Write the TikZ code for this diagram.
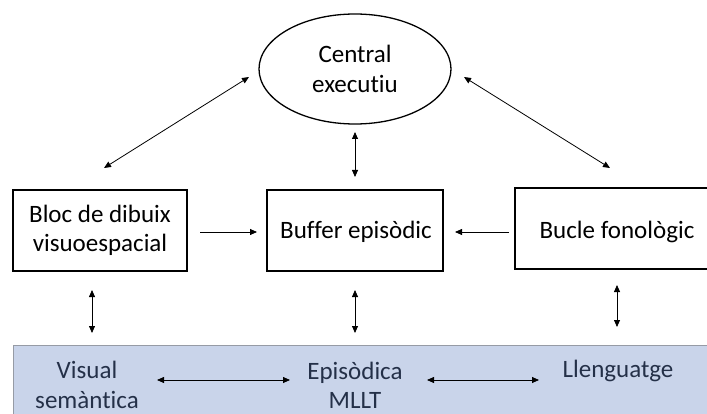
\documentclass[tikz,border=0pt]{standalone}
\usepackage{fontspec}
\setmainfont[Ligatures=NoCommon]{Carlito}
\usetikzlibrary{arrows.meta,shapes.geometric}
\definecolor{bandfill}{RGB}{201,212,234}
\definecolor{bandline}{RGB}{150,155,165}
\definecolor{bandtext}{RGB}{36,48,72}
\begin{document}
\begin{tikzpicture}[x=1pt,y=-1pt,
  every node/.style={font=\fontsize{25}{29.5}\selectfont, align=center, inner sep=0pt},
  arr/.style={-{Triangle[length=7pt,width=6pt]}, line width=0.8pt},
  darr/.style={{Triangle[length=7pt,width=6pt]}-{Triangle[length=7pt,width=6pt]}, line width=0.8pt},
  boxst/.style={draw, line width=1.3pt, inner sep=0pt},
  bandlbl/.style={text=bandtext}]
\useasboundingbox (0,0) rectangle (707,414);
% bottom band
\fill[fill=bandfill, draw=bandline, line width=1pt] (13,345) rectangle (712,420);
% central executive
\node[draw, ellipse, line width=1.3pt, minimum width=192pt, minimum height=110pt] (ce) at (355,69) {Central\\executiu};
% boxes
\node[boxst, minimum width=174pt, minimum height=81pt] (vs) at (100,230.5) {Bloc de dibuix\\visuoespacial};
\node[boxst, minimum width=176pt, minimum height=81pt] (eb) at (355,230.5) {};
\node (ebt) at (356,232) {Buffer episòdic};
\node[boxst, minimum width=205pt, minimum height=81pt] (pl) at (617.5,228.5) {};
\node (plt) at (617,232) {Bucle fonològic};
% bottom labels
\node[bandlbl] (vis) at (87,385) {Visual\\semàntica};
\node[bandlbl] (epi) at (355,385.5) {Episòdica\\MLLT};
\node[bandlbl] (llg) at (618,371) {Llenguatge};
% coordinates
\coordinate (a1) at (104,168); \coordinate (a2) at (249,77);
\coordinate (b1) at (464,77); \coordinate (b2) at (610,168);
\coordinate (c1) at (355,132); \coordinate (c2) at (355,177);
\coordinate (d1) at (200,232); \coordinate (d2) at (257,232);
\coordinate (e1) at (509,232); \coordinate (e2) at (455,232);
\coordinate (f1) at (92,290); \coordinate (f2) at (92,333);
\coordinate (g1) at (355,290); \coordinate (g2) at (355,333);
\coordinate (h1) at (617,285); \coordinate (h2) at (617,327);
\coordinate (i1) at (157,380); \coordinate (i2) at (290,380);
\coordinate (j1) at (427,380); \coordinate (j2) at (539,380);
\draw[darr] (a1) -- (a2);
\draw[darr] (b1) -- (b2);
\draw[darr] (c1) -- (c2);
\draw[arr] (d1) -- (d2);
\draw[arr] (e1) -- (e2);
\draw[darr] (f1) -- (f2);
\draw[darr] (g1) -- (g2);
\draw[darr] (h1) -- (h2);
\draw[darr] (i1) -- (i2);
\draw[darr] (j1) -- (j2);
\end{tikzpicture}
\end{document}
